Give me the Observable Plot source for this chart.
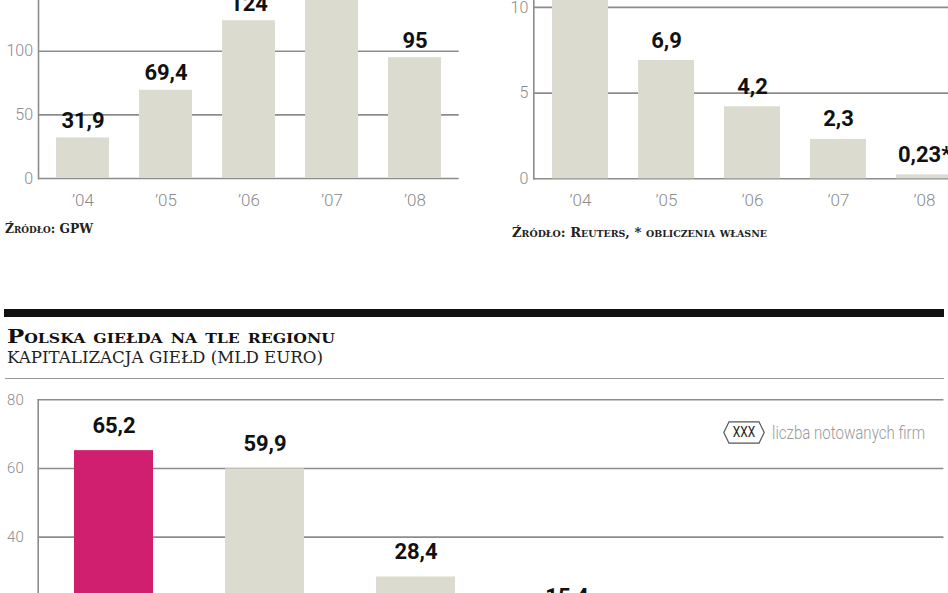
<!DOCTYPE html>
<html><head><meta charset="utf-8">
<script src="https://cdn.jsdelivr.net/npm/d3@7"></script>
<script src="https://cdn.jsdelivr.net/npm/@observablehq/plot@0.6"></script>
<style>
html,body{margin:0;padding:0;background:#fff;}
body{width:948px;height:593px;overflow:hidden;position:relative;}
.abs{position:absolute;white-space:nowrap;}
.fit{display:inline-block;transform-origin:0 50%;white-space:nowrap;}
.src{font-family:"DejaVu Serif",serif;font-variant:small-caps;font-weight:bold;font-size:12.5px;color:#222;}
.title{font-family:"DejaVu Serif",serif;font-variant:small-caps;font-weight:bold;font-size:19px;color:#111;}
.sub{font-family:"DejaVu Serif",serif;text-transform:uppercase;font-size:16px;color:#222;}
</style></head><body>
<div id="c1" class="abs" style="left:0;top:-40px;width:470px"></div>
<div id="c2" class="abs" style="left:480px;top:-60px;width:500px"></div>
<div class="abs"><span class="fit src" data-w="88" style="position:absolute;left:5px;top:221px">Źródło: GPW</span></div>
<div class="abs"><span class="fit src" data-w="255" style="position:absolute;left:512px;top:225px">Źródło: Reuters, * obliczenia własne</span></div>
<div class="abs" style="left:4px;top:309px;width:940px;height:8px;background:#111"></div>
<div class="abs"><span class="fit title" data-w="328" style="position:absolute;left:7px;top:325px">Polska giełda na tle regionu</span></div>
<div class="abs"><span class="fit sub" data-w="316" style="position:absolute;left:7px;top:348px">kapitalizacja giełd (mld euro)</span></div>
<div class="abs" style="left:5px;top:377.5px;width:939px;height:1.6px;background:#9a9a9a"></div>
<div id="c3" class="abs" style="left:0;top:380px;width:948px"></div>
<div class="abs" style="left:723px;top:421px;height:23px;width:230px;">
  <svg width="42" height="23" style="position:absolute;left:0;top:0"><polygon points="0.8,11.5 6,0.8 36,0.8 41.2,11.5 36,22.2 6,22.2" fill="#fff" stroke="#555" stroke-width="1.2"/><text x="21" y="16.2" text-anchor="middle" font-size="14" fill="#222" font-family="Roboto, sans-serif" transform="translate(21,0) scale(0.85,1) translate(-21,0)">XXX</text></svg>
  <span class="fit" data-w="153" style="position:absolute;left:49px;top:0px;color:#999;font-family:Roboto,sans-serif;font-weight:300;font-size:18px;line-height:23px;">liczba notowanych firm</span>
</div>
<script>
// ---- data ----
const years = ["’04", "’05", "’06", "’07", "’08"];
const gpwValues = [31.9, 69.4, 124, 145, 95];
const reutersValues = [12, 6.9, 4.2, 2.3, 0.23];
const reutersNotes = ["", "", "", "", "*"];
const gpwTicks = [0, 50, 100, 150];
const reutersTicks = [0, 5, 10];
const exchanges = ["Warszawa", "Wiedeń", "Praga", "Budapeszt", "Bukareszt", "Lublana"];
const capValues = [65.2, 59.9, 28.4, 15.4, 9.6, 6.1];
const capTicks = [0, 20, 40, 60, 80];
const highlighted = "Warszawa";

const BEIGE = "#dcdbcf", MAGENTA = "#cf1f6e", GRID = "#8c8c8c";
const FONT = "Roboto, 'DejaVu Sans', sans-serif";
const fmt = v => String(v).replace(".", ",");

function barChart(o) {
  const data = o.cats.map((c, i) => ({cat: c, val: o.vals[i], label: fmt(o.vals[i]) + (o.notes ? o.notes[i] : "")}));
  const height = o.marginTop + o.domainMax * o.k + o.marginBottom;
  return Plot.plot({
    width: o.width, height,
    marginTop: o.marginTop, marginBottom: o.marginBottom,
    marginLeft: o.marginLeft, marginRight: o.marginRight,
    style: {background: "transparent", maxWidth: "none", overflow: "visible", fontFamily: FONT, color: "#8a8a8a"},
    x: {domain: o.cats, paddingInner: o.pi, paddingOuter: o.po, label: null},
    y: {domain: [0, o.domainMax], label: null},
    marks: [
      Plot.ruleY(o.ticks, {stroke: GRID, strokeWidth: 1.6}),
      Plot.barY(data, {x: "cat", y: "val", fill: d => d.cat === o.highlight ? MAGENTA : BEIGE}),
      Plot.frame({anchor: "left", stroke: GRID, strokeWidth: 1.6}),
      Plot.text(data, {x: "cat", y: "val", text: "label", lineAnchor: "bottom", dy: o.labelDy, fontSize: 22, fontWeight: "bold", fontFamily: FONT, fill: "#111"}),
      Plot.axisX({tickSize: 0, tickPadding: 15, fontSize: 17, fontWeight: 300, fill: "#8a8a8a"}),
      Plot.axisY({ticks: o.ticks, tickSize: 0, tickPadding: o.yPad, fontSize: o.ySize, fontWeight: 300, fill: "#8a8a8a", tickFormat: d => String(d)})
    ]
  });
}

document.getElementById("c1").append(barChart({
  cats: years, vals: gpwValues, ticks: gpwTicks, domainMax: 160, k: 1.272,
  marginTop: 14.5, marginBottom: 40, marginLeft: 38, marginRight: 11.3, width: 470,
  pi: 0.364, po: 0.19, labelDy: -10, yPad: 5.5, ySize: 16
}));
document.getElementById("c2").append(barChart({
  cats: years, vals: reutersValues, notes: reutersNotes, ticks: reutersTicks, domainMax: 13, k: 17.14,
  marginTop: 15.5, marginBottom: 40, marginLeft: 53.3, marginRight: 10.4, width: 500,
  pi: 0.354, po: 0.193, labelDy: -13, yPad: 5.5, ySize: 16
}));
document.getElementById("c3").append(barChart({
  cats: exchanges, vals: capValues, ticks: capTicks, domainMax: 80, k: 3.434, highlight: highlighted,
  marginTop: 19.3, marginBottom: 40, marginLeft: 37.7, marginRight: 4.6, width: 948,
  pi: 0.48, po: 0.235, labelDy: -17.5, yPad: 14.5, ySize: 15
}));

// horizontally fit the annotation texts to the widths they take in the reference
document.querySelectorAll(".fit").forEach(el => {
  const w = el.getBoundingClientRect().width;
  el.style.transform = `scaleX(${(+el.dataset.w / w).toFixed(4)})`;
});
</script>
</body></html>
